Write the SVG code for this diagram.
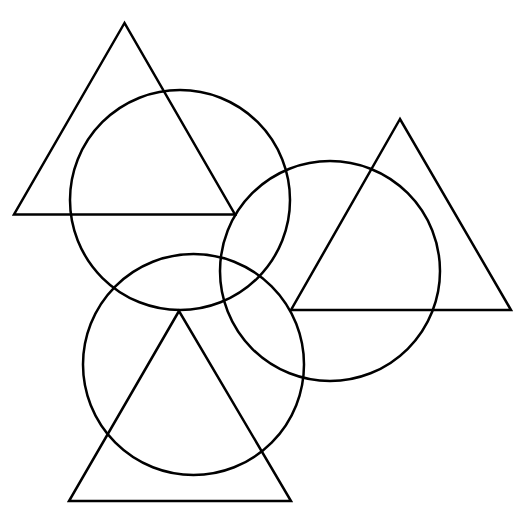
<svg xmlns="http://www.w3.org/2000/svg" width="525" height="525" viewBox="0 0 525 525">
<style>.s{fill:none;stroke:#000;stroke-width:2.5;stroke-linejoin:miter}</style>
<rect width="525" height="525" fill="#fff"/>
<g id="triangle1"><polygon class="s" points="124.5,23 14,214.5 235,214.5"/></g>
<g id="circle1"><circle class="s" cx="180" cy="200" r="110"/></g>
<g id="triangle2"><polygon class="s" points="400,119 291,310 511,310"/></g>
<g id="circle2"><circle class="s" cx="330" cy="271" r="110"/></g>
<g id="triangle3"><polygon class="s" points="179,311 69,501 291,501"/></g>
<g id="circle3"><circle class="s" cx="193.5" cy="364.5" r="110.5"/></g>
</svg>
